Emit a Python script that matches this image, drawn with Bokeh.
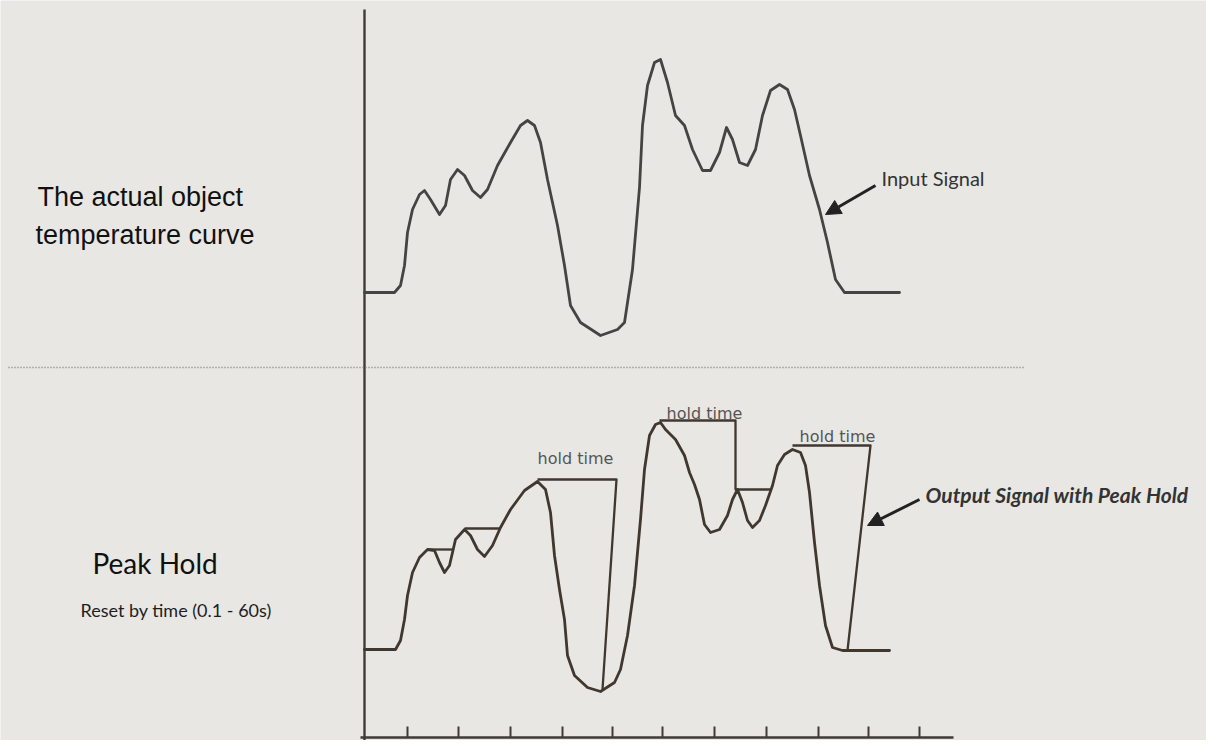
from bokeh.plotting import figure
from bokeh.models import Range1d, Label, Arrow, NormalHead
from bokeh.embed import file_html
from bokeh.resources import INLINE

# ---- data (time in drawing units, temperature in drawing units) ----
# Input signal (top panel)
top_t = [0, 30, 36, 40, 43, 48, 55, 60, 66, 75, 81, 86, 93, 100, 108, 116, 123, 133, 146, 156,
         163, 170, 176, 183, 193, 200, 206, 216, 236, 253, 260, 268, 275, 278, 283, 290, 296, 303, 311, 320,
         328, 338, 346, 355, 362, 368, 375, 383, 391, 398, 406, 415, 423, 430, 436, 445, 455, 463, 471, 480,
         491, 535]
top_T = [0, 0, 7, 27, 60, 83, 98, 102, 93, 78, 87, 113, 123, 117, 102, 95, 103, 127, 150, 167,
         172, 167, 150, 113, 67, 27, -13, -30, -43, -37, -30, 23, 105, 167, 207, 230, 233, 210, 177, 167,
         143, 122, 122, 140, 165, 153, 130, 127, 143, 177, 202, 208, 203, 183, 157, 117, 83, 50, 13, 0,
         0, 0]

# Input signal redrawn in the peak-hold panel (bottom)
bot_t = [0, 31, 36, 40, 43, 48, 55, 63, 70, 75, 80, 85, 91, 100, 106, 113, 120, 128, 136, 146,
         160, 173, 181, 186, 190, 195, 200, 203, 210, 223, 236, 250, 256, 263, 270, 276, 280, 285, 291, 296,
         301, 311, 320, 325, 330, 335, 340, 346, 355, 363, 368, 373, 378, 383, 388, 395, 401, 408, 413, 420,
         428, 436, 441, 445, 450, 455, 461, 468, 478, 525]
bot_T = [0, 0, 9, 30, 54, 77, 92, 100, 99, 87, 77, 84, 110, 120, 114, 100, 93, 104, 122, 140,
         159, 168, 160, 137, 94, 60, 30, -6, -26, -38, -42, -33, -20, 14, 64, 130, 180, 214, 225, 227,
         220, 210, 194, 177, 165, 150, 125, 117, 120, 134, 150, 160, 147, 129, 122, 129, 144, 164, 184, 195,
         200, 197, 184, 157, 107, 64, 24, 2, -1, -1]

# Peak-hold output segments (where output departs from the input)
hold_t = [[63, 89], [100, 136], [173, 252, 238], [295, 371, 371, 407], [428, 506, 483]]
hold_T = [[100, 100], [121, 121], [170, 170, -40], [229, 229, 160, 160], [204, 204, -1]]

# Time axis ticks
tick_t = [43, 94, 146, 198, 248, 298, 350, 402, 454, 504, 555]

# "hold time" labels: (time, temperature) positions of the text
hold_label_t = [211, 340, 473]
hold_label_T = [191, 236, 213]

INK = "#3f3b38"
BG = "#e8e7e4"

p = figure(width=1206, height=740, x_range=Range1d(-364, 842), y_range=Range1d(-91, 649),
           output_backend="svg", toolbar_location=None, min_border=0,
           x_axis_location=None, y_axis_location=None)
p.extra_y_ranges = {"top": Range1d(-448, 292)}
p.grid.visible = False
p.outline_line_color = None
p.background_fill_color = BG
p.border_fill_color = BG

# axes drawn as lines
p.segment(x0=[0], y0=[-91], x1=[0], y1=[640], line_color=INK, line_width=2.4)
p.segment(x0=[-4], y0=[-88], x1=[589], y1=[-88], line_color=INK, line_width=2.4)
p.segment(x0=tick_t, y0=[-77] * len(tick_t), x1=tick_t, y1=[-88] * len(tick_t),
          line_color=INK, line_width=2)

# dotted separator
p.line([-356, 661], [-75, -75], y_range_name="top", line_color="#7a7876",
       line_width=1.6, line_dash="1 2")

# curves
p.line(top_t, top_T, y_range_name="top", line_color="#454443", line_width=2.8,
       line_join="round", line_cap="round")
p.line(bot_t, bot_T, line_color="#40372f", line_width=2.8, line_join="round", line_cap="round")
p.multi_line(hold_t, hold_T, line_color="#40372f", line_width=2.3, line_join="round")

# texts
def lab(x, y, text, size, font, rng="default", style="normal", align="left", color="#1e1e1e"):
    kw = dict(x=x, y=y, text=text, text_font=font, text_font_size=f"{size}px",
              text_color=color, text_font_style=style, text_align=align,
              text_baseline="alphabetic")
    if rng != "default":
        kw["y_range_name"] = rng
    p.add_layout(Label(**kw))

lab(-327, 96, "The actual object", 27, "Liberation Sans", rng="top", color="#111")
lab(-329, 58, "temperature curve", 27, "Liberation Sans", rng="top", color="#111")
lab(-272, 87, "Peak Hold", 28, "Lato", color="#111")
lab(-284, 40, "Reset by time (0.1 - 60s)", 18, "Lato")
lab(517, 115, "Input Signal", 20, "Lato", rng="top", color="#333")
lab(561, 155, "Output Signal with Peak Hold", 21, "Lato", style="bold italic", color="#333")
for t_, T_ in zip(hold_label_t, hold_label_T):
    lab(t_, T_, "hold time", 16, "DejaVu Sans", align="center", color="#555")

# arrows
p.add_layout(Arrow(end=NormalHead(size=15, fill_color="#222", line_color="#222"),
                   x_start=511, y_start=107, x_end=461, y_end=78, y_range_name="top",
                   line_color="#222", line_width=3))
p.add_layout(Arrow(end=NormalHead(size=15, fill_color="#222", line_color="#222"),
                   x_start=555, y_start=150, x_end=503, y_end=124,
                   line_color="#222", line_width=3))

open("out.html", "w").write(file_html(p, INLINE))
